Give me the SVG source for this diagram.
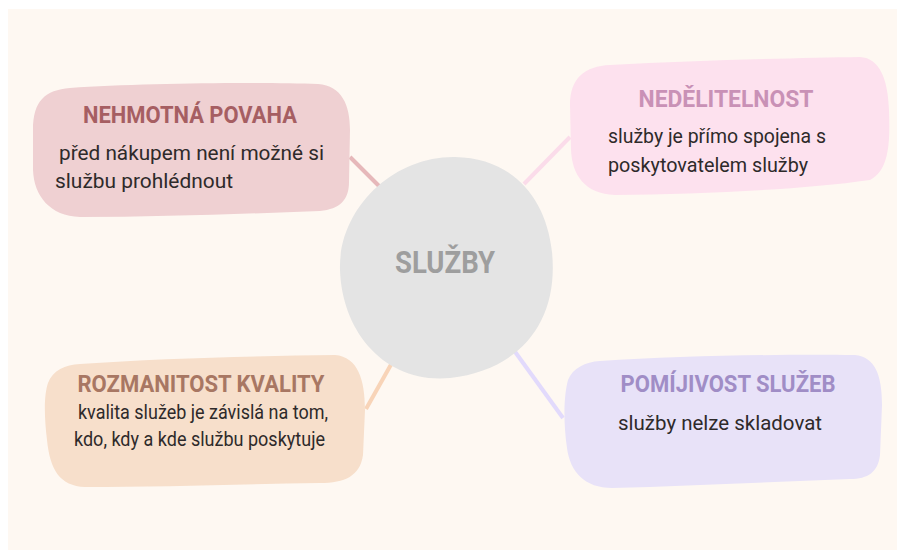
<svg xmlns="http://www.w3.org/2000/svg" width="897" height="550" viewBox="0 0 897 550">
<style>
.title{font-family:Roboto,"Liberation Sans",sans-serif;font-weight:700;font-size:24px;text-anchor:middle}
.body{font-family:Roboto,"Liberation Sans",sans-serif;font-weight:400;font-size:20px;fill:#2e2a2a}
.conn{stroke-width:4;fill:none;stroke-linecap:butt}
</style>
<rect x="0" y="0" width="897" height="550" fill="#ffffff"/>
<rect x="8" y="9" width="889" height="541" fill="#fef8f2"/>
<g id="connectors">
<line class="conn" x1="350" y1="157" x2="383" y2="190" stroke="#e6b8ba"/>
<line class="conn" x1="524" y1="184" x2="570" y2="137" stroke="#fbdcea"/>
<line class="conn" x1="366" y1="409" x2="393" y2="361" stroke="#f8d4b8"/>
<line class="conn" x1="513" y1="349" x2="563" y2="418" stroke="#e2dafc"/>
</g>
<g id="center">
<path d="M 455 157 C 512 158 546 197 552 252 C 559 322 520 370 450 378 C 385 384 342 332 340 270 C 338 210 392 156 455 157 Z" fill="#e4e4e4"/>
<text x="445" y="273" font-family="Roboto,'Liberation Sans',sans-serif" font-weight="700" font-size="32" fill="#9e9e9e" text-anchor="middle" textLength="100" lengthAdjust="spacingAndGlyphs">SLUŽBY</text>
</g>
<g id="nehmotna">
<path d="M 70 88 C 140 83 260 82 318 84 C 342 86 350 105 350 130 L 349 182 C 349 200 340 209 320 211 C 240 214 160 217 80 217 C 50 216 34 196 33 170 L 33 130 C 33 101 45 90 70 88 Z" fill="#efd0d2"/>
<text class="title" x="190" y="123" fill="#a65e62" textLength="214" lengthAdjust="spacingAndGlyphs">NEHMOTNÁ POVAHA</text>
<text class="body" x="59" y="160" textLength="265" lengthAdjust="spacingAndGlyphs">před nákupem není možné si</text>
<text class="body" x="55" y="188" textLength="178" lengthAdjust="spacingAndGlyphs">službu prohlédnout</text>
</g>
<g id="nedelitelnost">
<path d="M 610 65 C 700 60 800 58 860 57 C 880 58 888 80 889 110 C 890 140 890 170 870 180 C 800 190 700 194 615 195 C 585 194 572 175 571 150 L 570 105 C 570 78 585 66 610 65 Z" fill="#fde1ee"/>
<text class="title" x="726" y="107" fill="#c991b6" textLength="175" lengthAdjust="spacingAndGlyphs">NEDĚLITELNOST</text>
<text class="body" x="608" y="143" textLength="218" lengthAdjust="spacingAndGlyphs">služby je přímo spojena s</text>
<text class="body" x="608" y="172" textLength="200" lengthAdjust="spacingAndGlyphs">poskytovatelem služby</text>
</g>
<g id="rozmanitost">
<path d="M 80 364 C 160 358 260 356 335 355 C 358 357 365 380 365 410 L 363 455 C 360 476 345 483 320 483 C 240 484 160 487 85 487 C 60 486 50 470 47 440 C 44 415 44 395 48 383 C 53 370 65 365 80 364 Z" fill="#f7dfcb"/>
<text class="title" x="201" y="392" fill="#a87763" textLength="247" lengthAdjust="spacingAndGlyphs">ROZMANITOST KVALITY</text>
<text class="body" x="78" y="419" textLength="250" lengthAdjust="spacingAndGlyphs">kvalita služeb je závislá na tom,</text>
<text class="body" x="74" y="446" textLength="251" lengthAdjust="spacingAndGlyphs">kdo, kdy a kde službu poskytuje</text>
</g>
<g id="pomijivost">
<path d="M 600 361 C 680 356 780 354 855 355 C 875 357 882 375 882 405 L 880 455 C 878 472 868 479 850 479 C 770 482 690 486 612 488 C 585 488 570 472 567 448 C 563 420 564 395 568 380 C 573 368 585 362 600 361 Z" fill="#e8e2f8"/>
<text class="title" x="728" y="392" fill="#a08dc6" textLength="215" lengthAdjust="spacingAndGlyphs">POMÍJIVOST SLUŽEB</text>
<text class="body" x="618" y="430" textLength="204" lengthAdjust="spacingAndGlyphs">služby nelze skladovat</text>
</g>
</svg>
